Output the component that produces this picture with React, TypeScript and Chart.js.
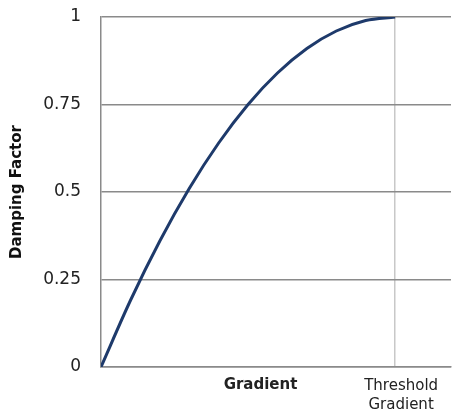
import React, { useEffect, useRef } from 'react';
import { Chart, registerables } from 'chart.js';

Chart.register(...registerables);

// Gradient as a fraction of the threshold gradient (threshold = 1)
const gradientValues = [0, 0.1, 0.2, 0.3, 0.4, 0.5, 0.6, 0.7, 0.8, 0.9, 1.0];
// Damping factor
const dampingValues = [0, 0.19, 0.36, 0.51, 0.64, 0.75, 0.84, 0.91, 0.96, 0.99, 1.0];

const yTickValues = [0, 0.25, 0.5, 0.75, 1];
const yTickLabels = ['0', '0.25', '0.5', '0.75', '1'];

const xTickValues = [0.522, 1];
const xTickLabels: (string | string[])[] = ['Gradient', ['Threshold', 'Gradient']];

const xMax = 1.19;

export default function App() {
  const canvasRef = useRef<HTMLCanvasElement | null>(null);

  useEffect(() => {
    if (!canvasRef.current) return;
    const FONT = '"DejaVu Sans", sans-serif';
    const chart = new Chart(canvasRef.current, {
      type: 'line',
      data: {
        datasets: [
          {
            data: gradientValues.map((x, i) => ({ x, y: dampingValues[i] })),
            borderColor: '#1e3a6b',
            borderWidth: 3,
            pointRadius: 0,
            cubicInterpolationMode: 'monotone',
            fill: false,
          },
        ],
      },
      options: {
        animation: false,
        responsive: true,
        maintainAspectRatio: false,
        layout: { padding: { top: 17, right: 1, left: 0, bottom: 0 } },
        plugins: { legend: { display: false }, tooltip: { enabled: false } },
        scales: {
          x: {
            type: 'linear',
            min: 0,
            max: xMax,
            afterBuildTicks: (scale: any) => {
              scale.ticks = xTickValues.map((v) => ({ value: v }));
            },
            afterFit: (scale: any) => {
              scale.height = 44;
            },
            ticks: {
              autoSkip: false,
              maxRotation: 0,
              padding: 9,
              labelOffset: 6,
              color: '#222',
              callback: (_v: any, i: number) => xTickLabels[i],
              font: (ctx: any) =>
                ctx.index === 0
                  ? { family: FONT, size: 15, weight: 'bold', lineHeight: 1.2 }
                  : { family: FONT, size: 15, weight: 'normal', lineHeight: 1.3 },
            },
            grid: {
              drawTicks: false,
              color: (ctx: any) =>
                ctx.tick && ctx.tick.value === 1 ? '#c8c8c8' : 'rgba(0,0,0,0)',
              lineWidth: 1.5,
            },
            border: { display: true, color: '#8a8a8a', width: 1.5 },
          },
          y: {
            type: 'linear',
            min: 0,
            max: 1,
            afterBuildTicks: (scale: any) => {
              scale.ticks = yTickValues.map((v) => ({ value: v }));
            },
            afterFit: (scale: any) => {
              scale.width = 101;
              scale.paddingTop = 0;
              scale.paddingBottom = 0;
            },
            ticks: {
              padding: 20,
              color: '#222',
              font: { family: FONT, size: 17 },
              callback: (_v: any, i: number) => yTickLabels[i],
            },
            grid: { drawTicks: false, color: '#8a8a8a', lineWidth: 1.5 },
            border: { display: true, color: '#8a8a8a', width: 1.5 },
            title: {
              display: true,
              text: 'Damping Factor',
              color: '#111',
              font: { family: FONT, size: 15, weight: 'bold', lineHeight: 1.2 },
              padding: { top: 8, bottom: 0 },
            },
          },
        },
      },
    } as any);
    return () => chart.destroy();
  }, []);

  return (
    <div style={{ position: 'fixed', left: 0, top: 0, width: 452, height: 411, background: '#fff' }}>
      <canvas ref={canvasRef} />
    </div>
  );
}
